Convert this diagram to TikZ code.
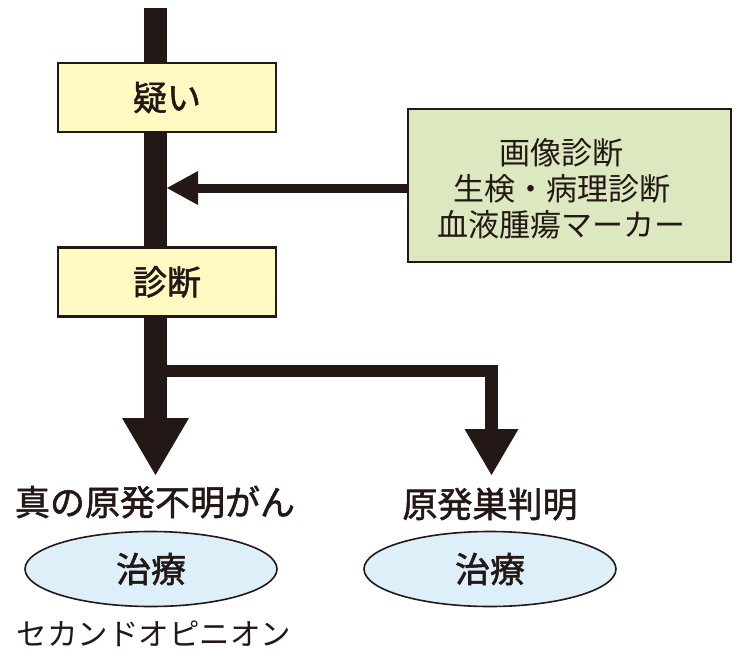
\documentclass[tikz,border=0pt]{standalone}
\usepackage{fontspec}
\newfontfamily\jp{Noto Sans CJK JP}
\newfontfamily\jpm[FakeBold=1.6]{Noto Sans CJK JP}
\usetikzlibrary{arrows.meta,shapes.geometric}
\definecolor{ink}{HTML}{231815}
\definecolor{boxy}{HTML}{FFF9C2}
\definecolor{boxg}{HTML}{DCE8BF}
\definecolor{ellb}{HTML}{DDF0FA}
\begin{document}
\begin{tikzpicture}[x=1pt,y=-1pt,
  stepbox/.style={draw=ink,line width=2.2pt,fill=boxy,minimum width=218pt,minimum height=69pt,inner sep=0pt,text=ink,font=\jpm\fontsize{34pt}{36pt}\selectfont},
  infobox/.style={draw=ink,line width=2.2pt,fill=boxg,minimum width=323pt,minimum height=153pt,inner sep=0pt},
  infotext/.style={align=center,text=ink,font=\jp\fontsize{31pt}{36pt}\selectfont},
  result/.style={text=ink,inner sep=0pt,font=\jpm\fontsize{35pt}{36pt}\selectfont},
  treat/.style={ellipse,draw=ink,line width=1.6pt,fill=ellb,minimum width=252pt,minimum height=75pt,inner sep=0pt,text=ink,font=\jpm\fontsize{35pt}{36pt}\selectfont},
  note/.style={text=ink,inner sep=0pt,font=\jp\fontsize{30.5pt}{36pt}\selectfont},
  mainbar/.style={draw=ink,line width=23pt,-{Triangle[length=57pt 0 0,width=67pt 0 0,line width=0pt 0 0]}},
  branchbar/.style={draw=ink,line width=12.5pt,miter limit=10,-{Triangle[length=46pt 0 0,width=54pt 0 0,line width=0pt 0 0]}},
  sidebar/.style={draw=ink,line width=9pt,-{Triangle[length=31pt 0 0,width=34pt 0 0,line width=0pt 0 0]}}
]
\useasboundingbox (0,0) rectangle (750,664);
\fill[white] (0,0) rectangle (750,664);
% coordinates
\coordinate (top) at (155.5,8);
\coordinate (tipL) at (155.5,475);
\coordinate (br) at (155.5,371);
\coordinate (tipR) at (491.5,475);
\coordinate (hit) at (167,188);
% connectors
\draw[mainbar] (top) -- (tipL);
\draw[branchbar] (br) -| (tipR);
% boxes
\node[stepbox] (q) at (167,97.5) {疑い};
\node[stepbox] (d) at (167,282) {診断};
\node[infobox] (g) at (569.5,185.5) {};
\node[infotext] (gt) at (561.5,189) {画像診断\\生検・病理診断\\血液腫瘍マーカー};
\draw[sidebar] (g.west |- hit) -- (hit);
% results
\node[result] (l1) at (155,502) {真の原発不明がん};
\node[result] (l2) at (490,504) {原発巣判明};
\node[treat] (e1) at (151,569) {治療};
\node[treat] (e2) at (490,569) {治療};
\node[note] (so) at (154,634) {セカンドオピニオン};
\end{tikzpicture}
\end{document}
